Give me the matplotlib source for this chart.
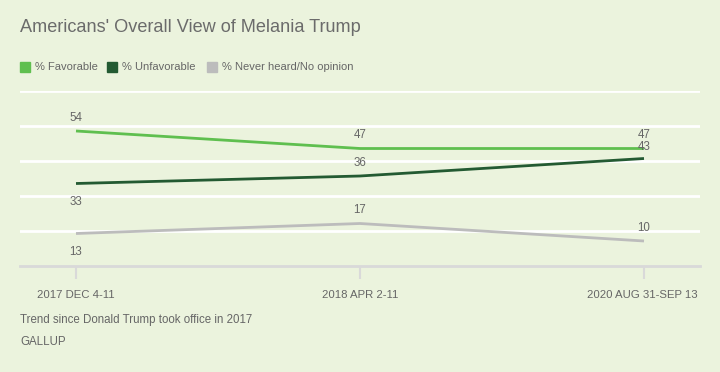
import matplotlib.pyplot as plt
from matplotlib.patches import Rectangle

## Data
periods = ['2017 DEC 4-11', '2018 APR 2-11', '2020 AUG 31-SEP 13']
favorable = [54, 47, 47]
unfavorable = [33, 36, 43]
no_opinion = [13, 17, 10]

series_names = ['% Favorable', '% Unfavorable', '% Never heard/No opinion']
colors = ['#5fbf4f', '#235a32', '#bcbcbc']
# label offsets in points: + above, - below
offsets = [[9.5, 9.5, 10], [-13, 9.5, 8.5], [-13, 9.5, 9.5]]

bg = '#ebf3dd'
txt = '#666666'
font = 'Liberation Sans'
plt.rcParams['font.family'] = font

fig = plt.figure(figsize=(7.2, 3.72), dpi=100, facecolor=bg)
ax = fig.add_axes([20/720, (372-266)/372, 680/720, 175/372], facecolor=bg)

x = list(range(len(periods)))
for vals, c, offs in zip([favorable, unfavorable, no_opinion], colors, offsets):
    ax.plot(x, vals, color=c, lw=2, zorder=3, solid_capstyle='butt')
    for xi, v, o in zip(x, vals, offs):
        ax.annotate(str(v), (xi, v), xytext=(0, o), textcoords='offset points',
                    ha='center', va='center', fontsize=8.3, color=txt)

ax.set_xlim(-56/284, 2 + 56/284)
ax.set_ylim(0, 70)
ax.set_yticks([14, 28, 42, 56, 70])
ax.yaxis.grid(True, color='white', lw=2)
ax.set_axisbelow(True)
ax.tick_params(axis='y', length=0, labelleft=False)
for s in ['top', 'right', 'left']:
    ax.spines[s].set_visible(False)
ax.spines['bottom'].set_color('#d9d9d9')
ax.spines['bottom'].set_linewidth(2)
ax.set_xticks(x)
ax.set_xticklabels([])
ax.tick_params(axis='x', length=9, width=1.5, color='#d9d9d9')

# tick labels: last one right-aligned to the plot edge
for i, lab in enumerate(periods):
    if i == len(periods) - 1:
        ax.annotate(lab, (1, 0), xycoords='axes fraction', xytext=(-2, -21),
                    textcoords='offset points', ha='right', va='center',
                    fontsize=8.2, color=txt)
    else:
        ax.annotate(lab, (i, 0), xycoords=('data', 'axes fraction'), xytext=(0, -21),
                    textcoords='offset points', ha='center', va='center',
                    fontsize=8.2, color=txt)

# title
fig.text(20/720, 1 - 28/372, "Americans' Overall View of Melania Trump",
         fontsize=13.1, color='#6b6b6b', va='center', ha='left')

# legend
leg_x = [20, 107, 207]
for lx, name, c in zip(leg_x, series_names, colors):
    fig.patches.append(Rectangle((lx/720, 1 - 72/372), 10/720, 10/372,
                                 transform=fig.transFigure, color=c))
    fig.text((lx + 15)/720, 1 - 67/372, name, fontsize=8, color=txt,
             va='center', ha='left')

# footer
fig.text(20/720, 1 - 320/372, 'Trend since Donald Trump took office in 2017',
         fontsize=8.3, color=txt, va='center', ha='left')
fig.text(20/720, 1 - 342/372, 'GALLUP', fontsize=8.3, color=txt,
         va='center', ha='left')

fig.savefig('out.png', dpi=100, facecolor=bg)
